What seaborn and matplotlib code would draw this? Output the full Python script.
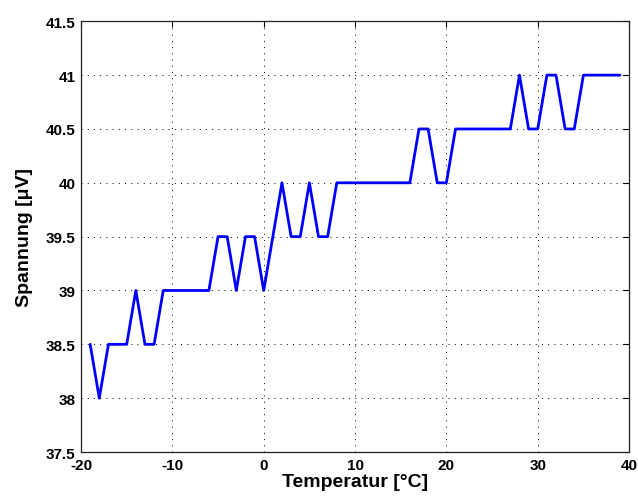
import matplotlib
matplotlib.use("Agg")
import matplotlib.pyplot as plt
import seaborn as sns
import pandas as pd

temperature = list(range(-19, 40))
voltage = [38.5, 38.0, 38.5, 38.5, 38.5, 39.0, 38.5, 38.5,
           39.0, 39.0, 39.0, 39.0, 39.0, 39.0,
           39.5, 39.5, 39.0, 39.5, 39.5, 39.0,
           39.5, 40.0, 39.5, 39.5, 40.0, 39.5, 39.5,
           40.0, 40.0, 40.0, 40.0, 40.0, 40.0, 40.0, 40.0, 40.0,
           40.5, 40.5, 40.0, 40.0,
           40.5, 40.5, 40.5, 40.5, 40.5, 40.5, 40.5,
           41.0, 40.5, 40.5, 41.0, 41.0, 40.5, 40.5,
           41.0, 41.0, 41.0, 41.0, 41.0]
x_ticks = [-20, -10, 0, 10, 20, 30, 40]
y_ticks = [37.5, 38, 38.5, 39, 39.5, 40, 40.5, 41, 41.5]
x_label = "Temperatur [°C]"
y_label = "Spannung [μV]"

df = pd.DataFrame({"T": temperature, "U": voltage})

sns.set_theme(style="white")
plt.rcParams['font.family'] = ['Liberation Sans', 'DejaVu Sans']

fig = plt.figure(figsize=(6.38, 5.02), dpi=100)
ax = fig.add_axes([0.127, 0.0976, 0.859, 0.858])
sns.lineplot(data=df, x="T", y="U", ax=ax, color="#0000ff", linewidth=2)

ax.set_xlim(-20, 40)
ax.set_ylim(37.5, 41.5)
ax.set_xticks(x_ticks)
ax.set_yticks(y_ticks)
ax.set_xticklabels([f"{v:g}" for v in x_ticks], fontsize=11, fontweight="bold", color="black")
ax.set_yticklabels([f"{v:g}" for v in y_ticks], fontsize=11, fontweight="bold", color="black")
ax.set_xlabel(x_label, fontsize=14, fontweight="bold", labelpad=1, color="black")
ax.set_ylabel(y_label, fontsize=14, fontweight="bold", labelpad=9, color="black")

ax.grid(True, linestyle=(0, (1, 5.4)), color="black", linewidth=0.7)
for s in ax.spines.values():
    s.set_color("#222222")
    s.set_linewidth(0.9)
ax.tick_params(direction="in", top=True, right=True, length=4, width=0.8,
               colors="black", pad=4)

fig.savefig("out.png", dpi=100)
